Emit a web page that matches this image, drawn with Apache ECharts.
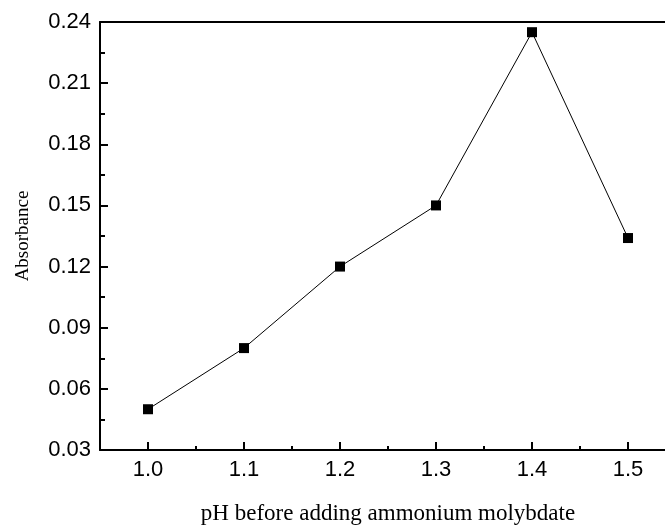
<!DOCTYPE html>
<html>
    <head>
        <meta charset="utf-8"/>
        <script src="https://cdn.jsdelivr.net/npm/echarts@6.0.0/dist/echarts.min.js"></script>
        <style>
            html, body { margin: 0; padding: 0; background: #fff; }
        </style>
    </head>
	<body>
        <div id="main" style="width: 665px;height: 525px;"></div>
		<script>
			// data
			var phValues = [1.0, 1.1, 1.2, 1.3, 1.4, 1.5];
			var absorbance = [0.05, 0.08, 0.12, 0.15, 0.235, 0.134];
			var xRange = [0.95, 1.55];
			var yRange = [0.03, 0.24];

			var black = '#000';
			var sans = 'Liberation Sans';
			var serif = 'Liberation Serif';

			var points = phValues.map(function (x, i) { return [x, absorbance[i]]; });

			var myChart = echarts.init(document.getElementById('main'));
			myChart.setOption({
			  animation: false,
			  backgroundColor: '#fff',
			  grid: [
				{ left: 100, right: -11, top: 22, bottom: 75, outerBoundsMode: 'none' },
				// second grid starts at pH 1.0 so major ticks land on tenths
				{ left: 148, right: -11, top: 22, bottom: 75, outerBoundsMode: 'none' }
			  ],
			  xAxis: [
				{
				  gridIndex: 0, type: 'value', min: xRange[0], max: xRange[1], interval: 0.05,
				  axisLine: { lineStyle: { color: black, width: 2 } },
				  axisTick: { inside: true, length: 4, lineStyle: { color: black, width: 2 } },
				  axisLabel: { show: false },
				  splitLine: { show: false },
				  name: 'pH before adding ammonium molybdate',
				  nameLocation: 'middle', nameGap: 52,
				  nameTextStyle: { fontFamily: serif, fontSize: 23, color: black }
				},
				{
				  gridIndex: 0, type: 'value', position: 'top', min: xRange[0], max: xRange[1],
				  axisLine: { lineStyle: { color: black, width: 2 } },
				  axisTick: { show: false }, axisLabel: { show: false }, splitLine: { show: false }
				},
				{
				  gridIndex: 1, type: 'value', min: 1.0, max: xRange[1], interval: 0.1,
				  axisLine: { show: false },
				  axisTick: { inside: true, length: 8, lineStyle: { color: black, width: 2 } },
				  axisLabel: {
					margin: 9, fontFamily: sans, fontSize: 22, color: black,
					formatter: function (v) {
					  return Math.abs(v * 10 - Math.round(v * 10)) < 1e-6 ? v.toFixed(1) : '';
					}
				  },
				  splitLine: { show: false }
				}
			  ],
			  yAxis: [
				{
				  gridIndex: 0, type: 'value', min: yRange[0], max: yRange[1], interval: 0.03,
				  axisLine: { lineStyle: { color: black, width: 2 } },
				  axisTick: { inside: true, length: 8, lineStyle: { color: black, width: 2 } },
				  minorTick: { show: true, splitNumber: 2, length: 5, lineStyle: { color: black, width: 2 } },
				  axisLabel: {
					margin: 9, fontFamily: sans, fontSize: 22, color: black,
					formatter: function (v) { return v.toFixed(2); }
				  },
				  splitLine: { show: false }, minorSplitLine: { show: false },
				  name: 'Absorbance', nameLocation: 'middle', nameGap: 67,
				  nameTextStyle: { fontFamily: serif, fontSize: 19, color: black }
				},
				{ gridIndex: 1, type: 'value', min: yRange[0], max: yRange[1], show: false }
			  ],
			  series: [
				{
				  type: 'line',
				  xAxisIndex: 0, yAxisIndex: 0,
				  data: points,
				  symbol: 'rect', symbolSize: 10,
				  lineStyle: { color: black, width: 1 },
				  itemStyle: { color: black }
				}
			  ]
			});
		</script>
  </body>
</html>
